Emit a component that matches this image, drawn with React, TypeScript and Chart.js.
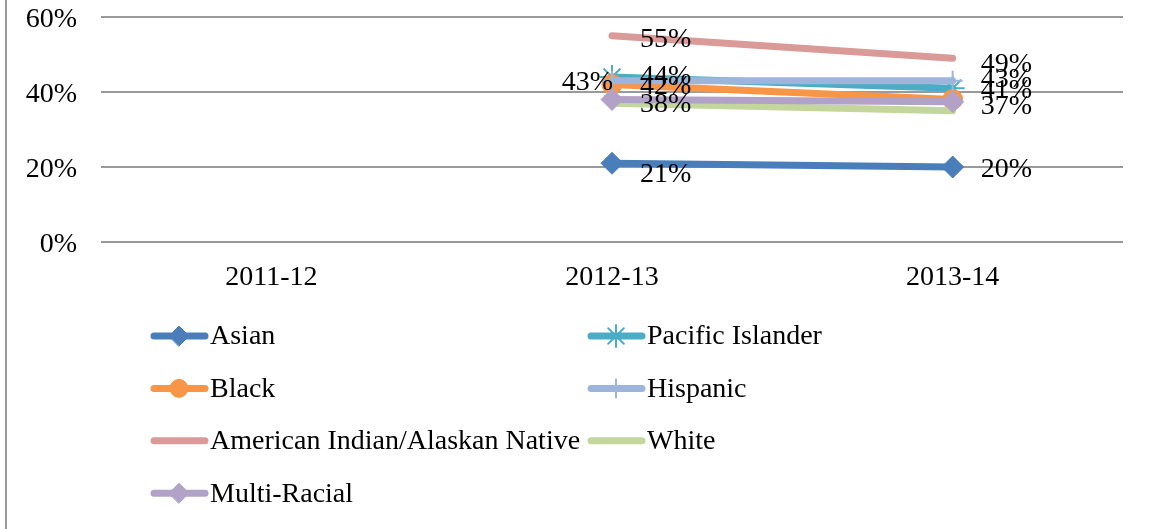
import React, { useEffect, useRef } from 'react';
import { Chart, registerables } from 'chart.js';
import { drawPoint } from 'chart.js/helpers';

Chart.register(...registerables);

// ---- data ----
const categories = ['2011-12', '2012-13', '2013-14'];
const asian = [null, 21, 20];
const pacificIslander = [null, 44, 41];
const black = [null, 42, 38];
const hispanic = [null, 43, 43];
const americanIndian = [null, 55, 49];
const white = [null, 37, 35];
const multiRacial = [null, 38, 37.4];
const seriesNames = [
  'Asian',
  'Pacific Islander',
  'Black',
  'Hispanic',
  'American Indian/Alaskan Native',
  'White',
  'Multi-Racial',
];
const seriesValues = [asian, pacificIslander, black, hispanic, americanIndian, white, multiRacial];
const yTickValues = [0, 20, 40, 60];

// ---- styles ----
const FONT = '"Liberation Serif", "Times New Roman", serif';
const FONT_SIZE = 28;
const LABEL_SHIFT = 2;
const seriesStyles = [
  { color: '#4A7EBB', pointStyle: 'rectRot', radius: 11, pbw: 1, label: ['none', 'right', 'right'], dy: [0, 9, 1] },
  { color: '#4BACC6', pointStyle: 'star', radius: 12, pbw: 2, label: ['none', 'right', 'right'], dy: [0, -2, 0] },
  { color: '#F79646', pointStyle: 'circle', radius: 10, pbw: 1, label: ['none', 'right', 'none'], dy: [0, 0, 0] },
  { color: '#9DB5DA', pointStyle: 'cross', radius: 10, pbw: 2, label: ['none', 'left', 'right'], dy: [0, 0, -3] },
  { color: '#DA9A98', pointStyle: false, radius: 0, pbw: 0, label: ['none', 'right', 'right'], dy: [0, 2, 4] },
  { color: '#C3D69B', pointStyle: false, radius: 0, pbw: 0, label: ['none', 'none', 'none'], dy: [0, 0, 0] },
  { color: '#B3A2C7', pointStyle: 'rectRot', radius: 11, pbw: 1, label: ['none', 'right', 'right'], dy: [0, 3, 3] },
];

const dataLabelPlugin = {
  id: 'dataLabels',
  afterDatasetsDraw(chart: any) {
    const ctx = chart.ctx;
    ctx.save();
    ctx.font = `${FONT_SIZE}px ${FONT}`;
    ctx.fillStyle = '#000';
    ctx.textBaseline = 'middle';
    chart.data.datasets.forEach((ds: any, i: number) => {
      const meta = chart.getDatasetMeta(i);
      const st = seriesStyles[i];
      meta.data.forEach((pt: any, j: number) => {
        const v = ds.data[j];
        if (v == null || st.label[j] === 'none') return;
        const text = Math.round(v) + '%';
        const y = pt.y + st.dy[j] + LABEL_SHIFT;
        if (st.label[j] === 'right') {
          ctx.textAlign = 'left';
          ctx.fillText(text, pt.x + 28, y);
        } else {
          ctx.textAlign = 'right';
          ctx.fillText(text, pt.x + 1, y);
        }
      });
    });
    ctx.restore();
  },
};

const legendPlugin = {
  id: 'gridLegend',
  afterDraw(chart: any) {
    const ctx = chart.ctx;
    const colX = [151, 588];
    const rowY0 = 336;
    const rowH = 52.4;
    ctx.save();
    chart.data.datasets.forEach((ds: any, i: number) => {
      const st = seriesStyles[i];
      const x0 = colX[i % 2];
      const y = rowY0 + Math.floor(i / 2) * rowH;
      ctx.strokeStyle = st.color;
      ctx.lineWidth = 7;
      ctx.lineCap = 'round';
      ctx.beginPath();
      ctx.moveTo(x0 + 3, y);
      ctx.lineTo(x0 + 54, y);
      ctx.stroke();
      if (st.pointStyle) {
        ctx.fillStyle = st.color;
        ctx.strokeStyle = st.color;
        ctx.lineWidth = st.pbw;
        drawPoint(ctx, { pointStyle: st.pointStyle as any, radius: st.radius - 1, rotation: 0, borderWidth: st.pbw }, x0 + 28, y);
      }
      ctx.font = `${FONT_SIZE}px ${FONT}`;
      ctx.fillStyle = '#000';
      ctx.textAlign = 'left';
      ctx.textBaseline = 'middle';
      ctx.fillText(ds.label, x0 + 59, y + 1);
    });
    ctx.restore();
  },
};

export default function App() {
  const canvasRef = useRef<HTMLCanvasElement | null>(null);

  useEffect(() => {
    const canvas = canvasRef.current;
    if (!canvas) return;
    const chart = new Chart(canvas, {
      type: 'line',
      data: {
        labels: categories,
        datasets: seriesNames.map((name, i) => {
          const st = seriesStyles[i];
          return {
            label: name,
            data: seriesValues[i],
            borderColor: st.color,
            backgroundColor: st.color,
            borderWidth: 7,
            borderCapStyle: 'round',
            borderJoinStyle: 'round',
            tension: 0,
            pointStyle: st.pointStyle as any,
            pointRadius: st.radius,
            pointBorderWidth: st.pbw,
            pointBackgroundColor: st.color,
            pointBorderColor: st.color,
            order: -i,
          } as any;
        }),
      },
      options: {
        responsive: false,
        animation: false,
        events: [],
        layout: { padding: { left: 0, right: 28, top: 17, bottom: 227 } },
        plugins: {
          legend: { display: false },
          tooltip: { enabled: false },
          title: { display: false },
        },
        scales: {
          x: {
            offset: true,
            grid: { display: false, drawTicks: false },
            border: { display: false },
            ticks: {
              color: '#000',
              font: { family: FONT, size: FONT_SIZE },
              padding: 19,
              maxRotation: 0,
              autoSkip: false,
            },
            afterFit(scale: any) {
              scale.height = 60;
            },
          },
          y: {
            min: 0,
            max: 60,
            afterBuildTicks(scale: any) {
              scale.ticks = yTickValues.map((v) => ({ value: v }));
            },
            grid: {
              color: '#9A9A9A',
              lineWidth: 2,
              drawTicks: true,
              tickLength: 24,
              tickColor: 'rgba(0,0,0,0)',
            },
            border: { display: false },
            ticks: {
              color: '#000',
              font: { family: FONT, size: FONT_SIZE },
              padding: 0,
              labelOffset: 3,
              callback: (v: any) => v + '%',
            },
            afterFit(scale: any) {
              scale.width = 101;
            },
          },
        },
      },
      plugins: [dataLabelPlugin, legendPlugin],
    });
    return () => chart.destroy();
  }, []);

  return (
    <div
      style={{
        position: 'fixed',
        left: 0,
        top: 0,
        width: 1151,
        height: 529,
        background: '#fff',
      }}
    >
      <div style={{ position: 'absolute', left: 5, top: 0, width: 2, height: 529, background: '#9A9A9A' }} />
      <canvas ref={canvasRef} width={1151} height={529} style={{ display: 'block' }} />
    </div>
  );
}
